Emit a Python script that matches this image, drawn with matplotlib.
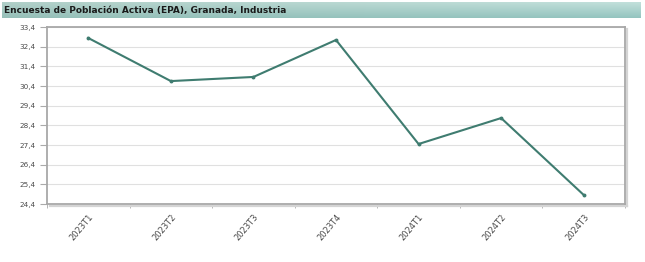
import numpy as np
import matplotlib
matplotlib.use('Agg')
import matplotlib.pyplot as plt

# data
periods = ['2023T1', '2023T2', '2023T3', '2023T4', '2024T1', '2024T2', '2024T3']
values = [32.84, 30.65, 30.86, 32.74, 27.45, 28.77, 24.86]
yticks = [24.4, 25.4, 26.4, 27.4, 28.4, 29.4, 30.4, 31.4, 32.4, 33.4]
title = 'Encuesta de Población Activa (EPA), Granada, Industria'

fig = plt.figure(figsize=(6.45, 2.62), dpi=100)

# title bar with a teal gradient
tax = fig.add_axes([0.003, 1 - 18/262, 0.990, 16/262])
grad_v = np.linspace(0, 1, 32)[:, None]
grad_h = np.linspace(0, 1, 256)[None, :]
top = np.array([0.76, 0.88, 0.86])
bot = np.array([0.58, 0.77, 0.75])
left_tint = np.array([0.60, 0.72, 0.68])
img = top[None, None, :] * (1 - grad_v[..., None]) + bot[None, None, :] * grad_v[..., None]
img = img * np.ones((1, 256, 1))
mix = (1 - grad_h[..., None]) * 0.4
img = img * (1 - mix) + left_tint[None, None, :] * mix
tax.imshow(img, aspect='auto', extent=[0, 1, 0, 1])
tax.set_xlim(0, 1)
tax.set_ylim(0, 1)
tax.axis('off')
tax.text(0.003, 0.5, title, fontsize=6.5, fontweight='bold', color='#1a1a1a',
         va='center', ha='left', transform=tax.transAxes)

ax = fig.add_axes([47/645, 1 - 204/262, 578/645, 177/262])
x = np.arange(len(periods))
ax.plot(x, values, color='#3f7c70', lw=1.5, marker='o', ms=1.8, zorder=3)

ax.set_xlim(-0.5, len(periods) - 0.5)
ax.set_ylim(yticks[0], yticks[-1])
ax.set_yticks(yticks)
ax.set_yticklabels([('%.1f' % v).replace('.', ',') for v in yticks])
ax.grid(axis='y', color='#e0e0e0', lw=0.8)
ax.set_axisbelow(True)

ax.set_xticks(x)
ax.set_xticklabels(periods, rotation=50, ha='right', va='top', rotation_mode='anchor')
ax.set_xticks(np.arange(len(periods) + 1) - 0.5, minor=True)
ax.tick_params(axis='x', which='major', length=0, labelsize=6, colors='#4a4a4a', pad=6)
ax.tick_params(axis='x', which='minor', length=3, color='#aaaaaa')
ax.tick_params(axis='y', length=5, color='#aaaaaa', labelsize=5.2, labelcolor='#4a4a4a', pad=3)

for s in ax.spines.values():
    s.set_color('#a8a8a8')
    s.set_linewidth(1.3)

# shadow on right and bottom of the frame
shadow = dict(color='#d4d4d4', lw=1.6, transform=ax.transAxes, clip_on=False)
ax.plot([1.004, 1.004], [-0.012, 0.99], **shadow)
ax.plot([0.005, 1.004], [-0.012, -0.012], **shadow)

fig.savefig('out.png', dpi=100)
